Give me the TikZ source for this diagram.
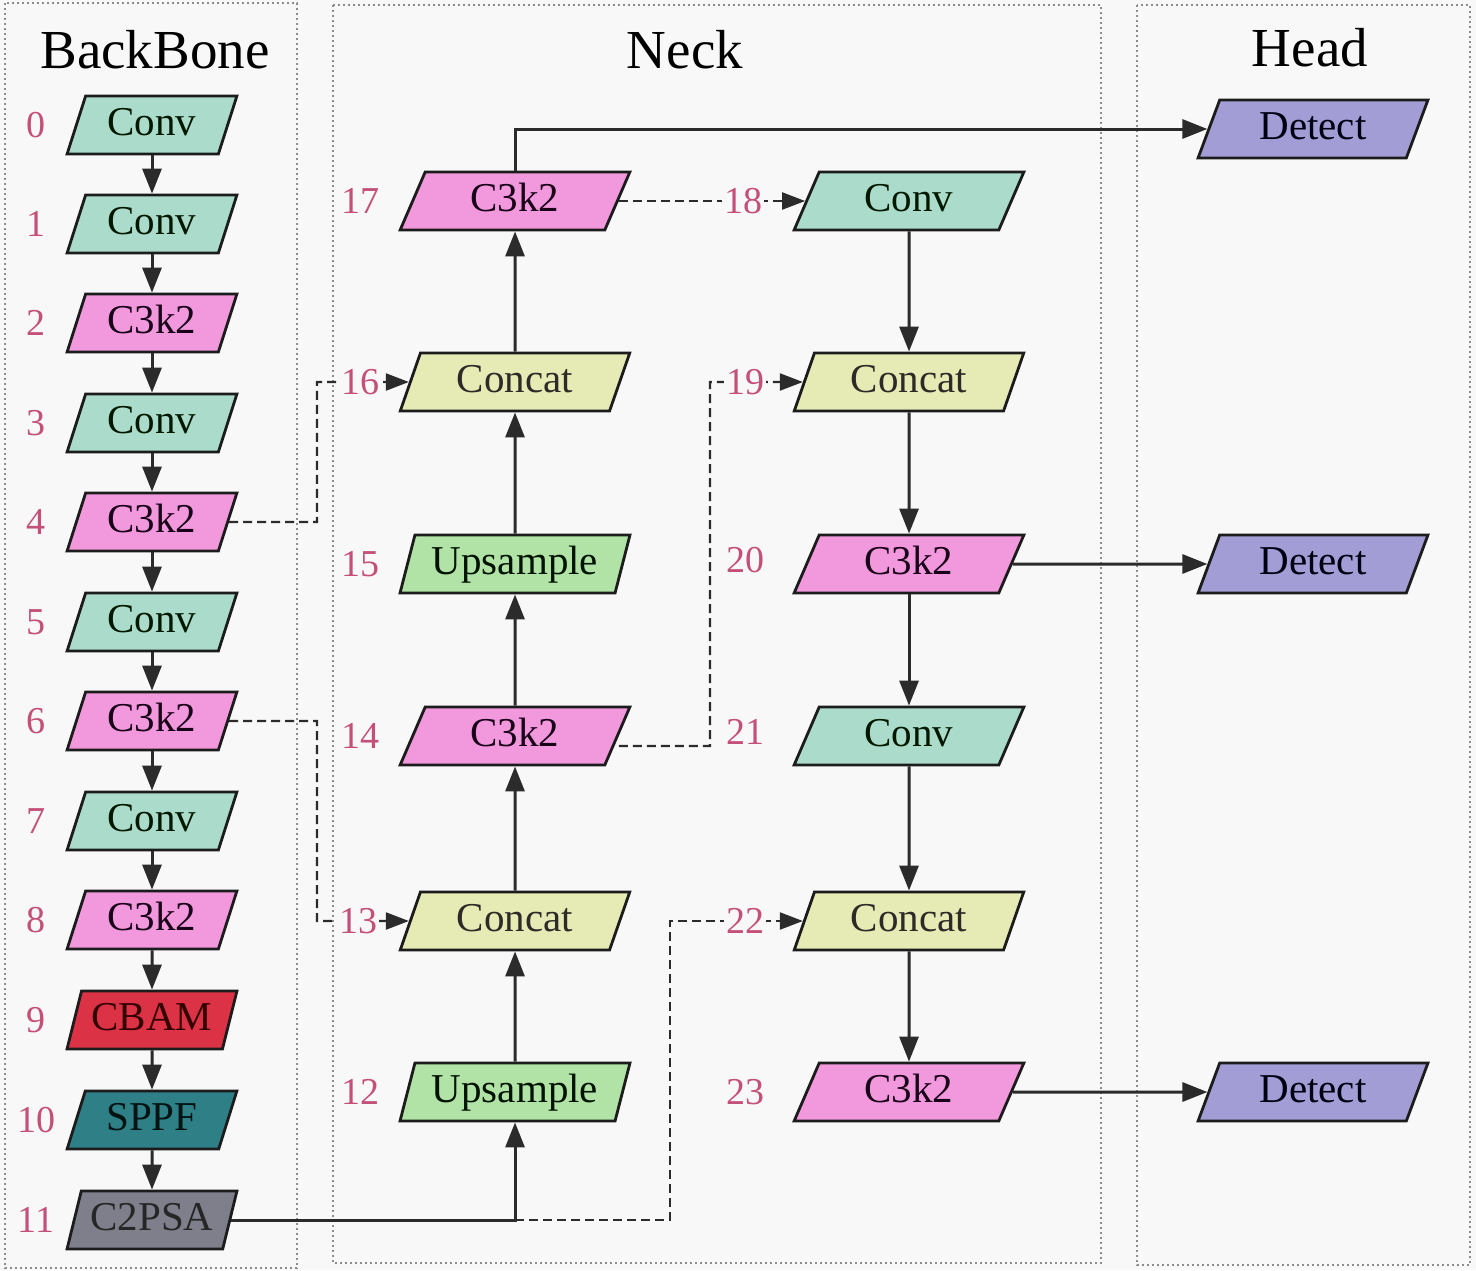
\documentclass[tikz,border=0pt]{standalone}
\usepackage{fontspec}
\setmainfont{Liberation Serif}
\usetikzlibrary{shapes.geometric,arrows.meta}
\definecolor{bg}{HTML}{F8F8F8}
\definecolor{edgec}{HTML}{1C1C1C}
\definecolor{arrc}{HTML}{2B2B2B}
\definecolor{numc}{HTML}{C4507A}
\definecolor{regc}{HTML}{8C8C8C}
\definecolor{convf}{HTML}{ABDCCB}
\definecolor{c3f}{HTML}{F298DC}
\definecolor{catf}{HTML}{E6EAB5}
\definecolor{upsf}{HTML}{B0E3A5}
\definecolor{cbamf}{HTML}{DC3245}
\definecolor{sppff}{HTML}{2E7F86}
\definecolor{c2psaf}{HTML}{7F7F8C}
\definecolor{detf}{HTML}{A29DD4}
\begin{document}
\begin{tikzpicture}[x=1pt,y=-1pt,
  blk/.style={trapezium, trapezium left angle=71, trapezium right angle=109,
    trapezium stretches=true,
    draw=edgec, line width=2.8pt, inner sep=0pt, minimum height=58pt,
    text height=28pt, text depth=8pt, font=\fontsize{41}{41}\selectfont},
  bb/.style={blk, minimum width=170pt},
  nk/.style={blk, minimum width=230pt},
  conv/.style={fill=convf, text=black!85!green!60!black},
  c3/.style={fill=c3f, text=black!80!violet},
  cat/.style={fill=catf, text=black!90!olive},
  ups/.style={fill=upsf, text=black!85!green!50!black},
  cbam/.style={fill=cbamf, text=black!80!red},
  sppf/.style={fill=sppff, text=black!85!teal},
  c2psa/.style={fill=c2psaf, text=black!85},
  det/.style={fill=detf, text=black!85!blue!50!black},
  num/.style={text=numc, font=\fontsize{38}{38}\selectfont, inner sep=2pt},
  lbl/.style={num, fill=bg},
  ttl/.style={font=\fontsize{55}{55}\selectfont, text=black},
  region/.style={draw=regc, line width=2.4pt, dash pattern=on 2.4pt off 2.6pt},
  arr/.style={draw=arrc, line width=3pt, -{Triangle[length=25pt,width=19pt]}},
  dsh/.style={draw=arrc, line width=2.2pt, dash pattern=on 9pt off 5pt, -{Triangle[length=23pt,width=17pt]}},
]
\fill[bg] (0,0) rectangle (1476,1270);
\useasboundingbox (0,0) rectangle (1476,1270);
% regions
\draw[region] (5,3) rectangle (297,1268);
\draw[region] (333,5) rectangle (1101,1263);
\draw[region] (1137,5) rectangle (1470,1265);
\node[ttl] (tb) at (155,50) {BackBone};
\node[ttl] (tn) at (685,50) {Neck};
\node[ttl] (th) at (1310,48) {Head};
% backbone
\node[bb,conv]  (n0)  at (152,125)  {Conv};
\node[bb,conv]  (n1)  at (152,224)  {Conv};
\node[bb,c3]    (n2)  at (152,323)  {C3k2};
\node[bb,conv]  (n3)  at (152,423)  {Conv};
\node[bb,c3]    (n4)  at (152,522)  {C3k2};
\node[bb,conv]  (n5)  at (152,622)  {Conv};
\node[bb,c3]    (n6)  at (152,721)  {C3k2};
\node[bb,conv]  (n7)  at (152,821)  {Conv};
\node[bb,c3]    (n8)  at (152,920)  {C3k2};
\node[bb,cbam]  (n9)  at (152,1020) {CBAM};
\node[bb,sppf]  (n10) at (152,1120) {SPPF};
\node[bb,c2psa] (n11) at (152,1220) {C2PSA};
\foreach \i/\y in {0/125,1/224,2/323,3/423,4/522,5/622,6/721,7/821,8/920,9/1020,10/1120,11/1220}
  \node[num] (l\i) at (36,\y) {\i};
\foreach \a/\b in {0/1,1/2,2/3,3/4,4/5,5/6,6/7,7/8,8/9,9/10,10/11}
  \draw[arr] (n\a.south) -- (n\b.north);
% neck column 1
\node[nk,ups] (n12) at (515,1092) {Upsample};
\node[nk,cat] (n13) at (515,921)  {Concat};
\node[nk,c3]  (n14) at (515,736)  {C3k2};
\node[nk,ups] (n15) at (515,564)  {Upsample};
\node[nk,cat] (n16) at (515,382)  {Concat};
\node[nk,c3]  (n17) at (515,201)  {C3k2};
% neck column 2
\node[nk,conv] (n18) at (909,201)  {Conv};
\node[nk,cat]  (n19) at (909,382)  {Concat};
\node[nk,c3]   (n20) at (909,564)  {C3k2};
\node[nk,conv] (n21) at (909,736)  {Conv};
\node[nk,cat]  (n22) at (909,921)  {Concat};
\node[nk,c3]   (n23) at (909,1092) {C3k2};
% head
\node[nk,det] (d1) at (1313,129)  {Detect};
\node[nk,det] (d2) at (1313,564)  {Detect};
\node[nk,det] (d3) at (1313,1092) {Detect};
% solid connectors
\coordinate (j11) at (515,1220);
\draw[arr] (n11.east) -| (n12.south);
\foreach \a/\b in {12/13,13/14,14/15,15/16,16/17}
  \draw[arr] (n\a.north) -- (n\b.south);
\foreach \a/\b in {18/19,19/20,20/21,21/22,22/23}
  \draw[arr] (n\a.south) -- (n\b.north);
\draw[arr] (n17.north) |- (d1.west);
\draw[arr] (n20.east) -- (d2.west);
\draw[arr] (n23.east) -- (d3.west);
% dashed connectors
\coordinate (v4) at (317,522);
\coordinate (v6) at (317,721);
\coordinate (v14) at (710,746);
\coordinate (v11) at (670,1220);
\draw[dsh] (n4.east) -- (v4) |- (n16.west);
\draw[dsh] (n6.east) -- (v6) |- (n13.west);
\draw[dsh] (n17.east) -- (n18.west);
\draw[dsh] ([yshift=-10pt]n14.east) -- (v14) |- (n19.west);
\draw[dsh] (j11) -- (v11) |- (n22.west);
% neck labels
\node[num] (l17) at (360,201) {17};
\node[lbl] (l16) at (360,382) {16};
\node[num] (l15) at (360,564) {15};
\node[num] (l14) at (360,736) {14};
\node[lbl] (l13) at (358,921) {13};
\node[num] (l12) at (360,1092) {12};
\node[lbl] (l18) at (743,201) {18};
\node[lbl] (l19) at (745,382) {19};
\node[num] (l20) at (745,560) {20};
\node[num] (l21) at (745,732) {21};
\node[lbl] (l22) at (745,921) {22};
\node[num] (l23) at (745,1092) {23};
\end{tikzpicture}
\end{document}
